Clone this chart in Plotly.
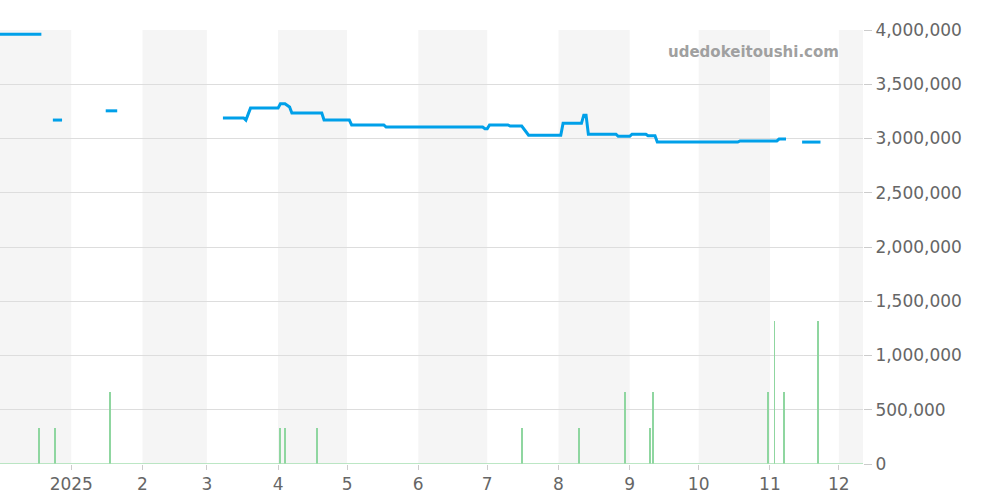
import plotly.graph_objects as go

# price series (None = gap)
price_dates = [
    "2024-12-01", "2024-12-19", None,
    "2024-12-24", "2024-12-28", None,
    "2025-01-16", "2025-01-21", None,
    "2025-03-08", "2025-03-17", "2025-03-18", "2025-03-20", "2025-04-01", "2025-04-02",
    "2025-04-04", "2025-04-06", "2025-04-07", "2025-04-20", "2025-04-21", "2025-05-02",
    "2025-05-03", "2025-05-17", "2025-05-18", "2025-06-29", "2025-06-30", "2025-07-01",
    "2025-07-02", "2025-07-10", "2025-07-11", "2025-07-16", "2025-07-19", "2025-08-02",
    "2025-08-03", "2025-08-11", "2025-08-12", "2025-08-13", "2025-08-14", "2025-08-26",
    "2025-08-27", "2025-09-01", "2025-09-02", "2025-09-08", "2025-09-09", "2025-09-12",
    "2025-09-13", "2025-10-18", "2025-10-19", "2025-11-04", "2025-11-05", "2025-11-08", None,
    "2025-11-15", "2025-11-23",
]
prices = [
    3960000, 3960000, None,
    3170000, 3170000, None,
    3255000, 3255000, None,
    3190000, 3190000, 3170000, 3280000, 3280000, 3320000,
    3320000, 3290000, 3235000, 3235000, 3170000, 3170000,
    3125000, 3125000, 3105000, 3105000, 3090000, 3090000,
    3125000, 3125000, 3115000, 3115000, 3030000, 3030000,
    3140000, 3140000, 3215000, 3215000, 3040000, 3040000,
    3020000, 3020000, 3040000, 3040000, 3025000, 3025000,
    2967000, 2967000, 2977000, 2977000, 2995000, 2995000, None,
    2967000, 2967000,
]

# volume bars
vol_dates = ["2024-12-18", "2024-12-25", "2025-01-18", "2025-04-02", "2025-04-04",
             "2025-04-18", "2025-07-16", "2025-08-10", "2025-08-30", "2025-09-10",
             "2025-09-11", "2025-10-31", "2025-11-03", "2025-11-07", "2025-11-22"]
volumes = [330000, 330000, 660000, 330000, 330000, 330000, 330000, 330000, 660000,
           330000, 660000, 660000, 1320000, 660000, 1320000]

band_months = [("2024-12-01", "2025-01-01"), ("2025-02-01", "2025-03-01"),
               ("2025-04-01", "2025-05-01"), ("2025-06-01", "2025-07-01"),
               ("2025-08-01", "2025-09-01"), ("2025-10-01", "2025-11-01"),
               ("2025-12-01", "2026-01-01")]

tick_vals = ["2025-01-01", "2025-02-01", "2025-03-01", "2025-04-01", "2025-05-01", "2025-06-01",
             "2025-07-01", "2025-08-01", "2025-09-01", "2025-10-01", "2025-11-01", "2025-12-01"]
tick_text = ["2025", "2", "3", "4", "5", "6", "7", "8", "9", "10", "11", "12"]

fig = go.Figure()

fig.add_trace(go.Bar(
    x=vol_dates, y=volumes,
    width=9 * 3600 * 1000,
    marker=dict(color="#8fd6a0", line=dict(width=0)),
))
fig.add_trace(go.Scatter(
    x=["2024-12-01", "2025-12-12"], y=[0, 0], mode="lines",
    line=dict(color="#a6dfb2", width=1.5),
))
fig.add_trace(go.Scatter(
    x=price_dates, y=prices, mode="lines",
    line=dict(color="#00a0e9", width=3),
    connectgaps=False,
))

for a, b in band_months:
    fig.add_shape(type="rect", xref="x", yref="paper", x0=a, x1=b, y0=0, y1=1,
                  fillcolor="#f5f5f5", line=dict(width=0), layer="below")

fig.add_annotation(text="udedokeitoushi.com", xref="paper", yref="paper",
                   x=0.975, y=0.975, xanchor="right", yanchor="top", showarrow=False,
                   font=dict(family="DejaVu Sans", size=15, color="#a0a0a0", weight="bold"))

fig.update_layout(
    width=1000, height=500,
    margin=dict(l=0, r=137, t=30, b=36),
    plot_bgcolor="white", paper_bgcolor="white",
    showlegend=False,
    bargap=0,
    font=dict(family="DejaVu Sans", color="#666666", size=17),
    xaxis=dict(range=["2024-12-01", "2025-12-11 12:00"], tickvals=tick_vals, ticktext=tick_text,
               showgrid=False, ticks="outside", ticklen=5, tickcolor="#cccccc",
               showline=False, zeroline=False),
    yaxis=dict(side="right", range=[0, 4000000], tickvals=[i * 500000 for i in range(9)],
               tickformat=",d", gridcolor="#dddddd", zeroline=False,
               ticks="outside", ticklen=8, tickcolor="#cccccc"),
)

fig.write_html("out.html", config={"displayModeBar": False},
               post_script="document.body.style.margin='0';")
